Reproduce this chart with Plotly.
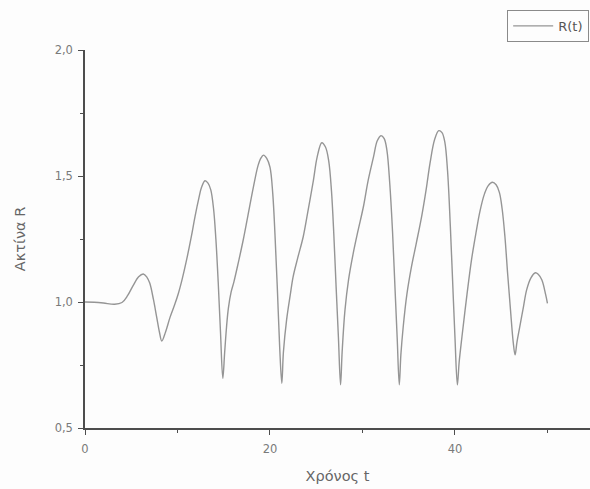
import plotly.graph_objects as go

# Time samples and radius values of R(t)
t = [0.0, 1.0, 2.0, 3.2, 4.0, 4.6, 5.2, 5.8, 6.3, 6.7, 7.0, 7.4, 7.75, 8.05, 8.3,
     8.7, 9.2, 9.7, 10.1, 10.5, 11.0, 11.5, 11.9, 12.3, 12.6, 12.97, 13.3, 13.6, 13.9, 14.15, 14.4, 14.65, 14.9,
     15.1, 15.3, 15.5, 15.8, 16.1, 16.6, 17.1, 17.6, 18.2, 18.7, 19.0, 19.3, 19.65, 20.0, 20.3, 20.55, 20.8, 21.05, 21.28,
     21.45, 21.8, 22.2, 22.5, 23.0, 23.6, 24.1, 24.7, 25.1, 25.6, 26.0, 26.35, 26.65, 26.9, 27.15, 27.4, 27.63,
     27.8, 28.1, 28.5, 29.0, 29.5, 30.1, 30.6, 31.2, 31.6, 32.0, 32.35, 32.65, 32.95, 33.25, 33.5, 33.75, 33.98,
     34.15, 34.4, 34.8, 35.3, 35.8, 36.4, 36.9, 37.3, 37.8, 38.25, 38.6, 38.9, 39.2, 39.5, 39.75, 40.0, 40.26,
     40.45, 40.75, 41.3, 41.8, 42.3, 42.7, 43.2, 43.6, 44.05, 44.45, 44.8, 45.1, 45.4, 45.7, 46.0, 46.3, 46.5,
     46.7, 47.0, 47.4, 47.75, 48.2, 48.7, 49.0, 49.4, 49.8, 50.0]
R = [1.0, 0.999, 0.996, 0.991, 0.998, 1.025, 1.065, 1.10, 1.111, 1.098, 1.075, 1.01, 0.94, 0.88, 0.845,
     0.88, 0.94, 0.99, 1.035, 1.09, 1.17, 1.26, 1.34, 1.41, 1.455, 1.481, 1.472, 1.445, 1.37, 1.25, 1.08, 0.88, 0.697,
     0.80, 0.90, 0.975, 1.04, 1.08, 1.16, 1.245, 1.34, 1.455, 1.54, 1.57, 1.583, 1.57, 1.535, 1.43, 1.26, 1.05, 0.82, 0.677,
     0.80, 0.93, 1.03, 1.10, 1.175, 1.26, 1.36, 1.484, 1.575, 1.632, 1.615, 1.56, 1.44, 1.27, 1.06, 0.86, 0.671,
     0.80, 0.965, 1.09, 1.193, 1.28, 1.378, 1.48, 1.577, 1.64, 1.66, 1.648, 1.60, 1.47, 1.28, 1.07, 0.86, 0.671,
     0.79, 0.90, 1.03, 1.14, 1.23, 1.34, 1.45, 1.55, 1.645, 1.68, 1.672, 1.635, 1.52, 1.30, 1.08, 0.86, 0.671,
     0.76, 0.86, 1.03, 1.17, 1.28, 1.36, 1.43, 1.462, 1.475, 1.465, 1.435, 1.37, 1.26, 1.11, 0.97, 0.84, 0.790,
     0.84, 0.90, 0.98, 1.048, 1.095, 1.116, 1.11, 1.087, 1.03, 0.995]

x_ticks = [0, 20, 40]
y_ticks = [0.5, 1.0, 1.5, 2.0]

axis_color = "#4d4d4d"
label_color = "#7a7a7a"
text_font = "DejaVu Sans, Liberation Sans, Arial, sans-serif"

fig = go.Figure()
fig.add_trace(go.Scatter(
    x=t, y=R, mode="lines", name="R(t)",
    line=dict(color="#959595", width=1.4, shape="spline", smoothing=1.0),
))

fig.update_layout(
    width=590, height=489,
    margin=dict(l=85, r=0, t=50, b=61, autoexpand=False),
    paper_bgcolor="#fdfdfd", plot_bgcolor="#fdfdfd",
    separators=",.",
    font=dict(family=text_font, size=11, color=label_color),
    showlegend=True,
    legend=dict(
        x=0.836, y=1.106, xanchor="left", yanchor="top",
        bordercolor="#8a8a8a", borderwidth=1, bgcolor="rgba(0,0,0,0)",
        font=dict(family=text_font, size=13, color="#555555"),
        itemwidth=40, tracegroupgap=0,
    ),
    xaxis=dict(
        range=[0, 54.6], tickvals=x_ticks, showgrid=False, zeroline=False,
        showline=True, linecolor=axis_color, linewidth=1.5,
        ticks="outside", ticklen=5, tickwidth=1.2, tickcolor=axis_color,
        ticklabelstandoff=4,
        minor=dict(dtick=10, tick0=0, ticks="outside", ticklen=3, tickcolor=axis_color, showgrid=False),
        tickfont=dict(family=text_font, size=11.5, color=label_color),
        title=dict(text="Χρόνος t", font=dict(family=text_font, size=14.5, color="#666666"), standoff=16),
    ),
    yaxis=dict(
        range=[0.5, 2.0], tickvals=y_ticks, tickformat=".1f", showgrid=False, zeroline=False,
        showline=True, linecolor=axis_color, linewidth=1.5,
        ticks="outside", ticklen=5, tickwidth=1.2, tickcolor=axis_color,
        ticklabelstandoff=3,
        minor=dict(dtick=0.25, tick0=0.5, ticks="outside", ticklen=3, tickcolor=axis_color, showgrid=False),
        tickfont=dict(family=text_font, size=11.5, color=label_color),
        title=dict(text="Ακτίνα R", font=dict(family=text_font, size=14.5, color="#666666"), standoff=26),
    ),
)

fig.write_html("out.html")
